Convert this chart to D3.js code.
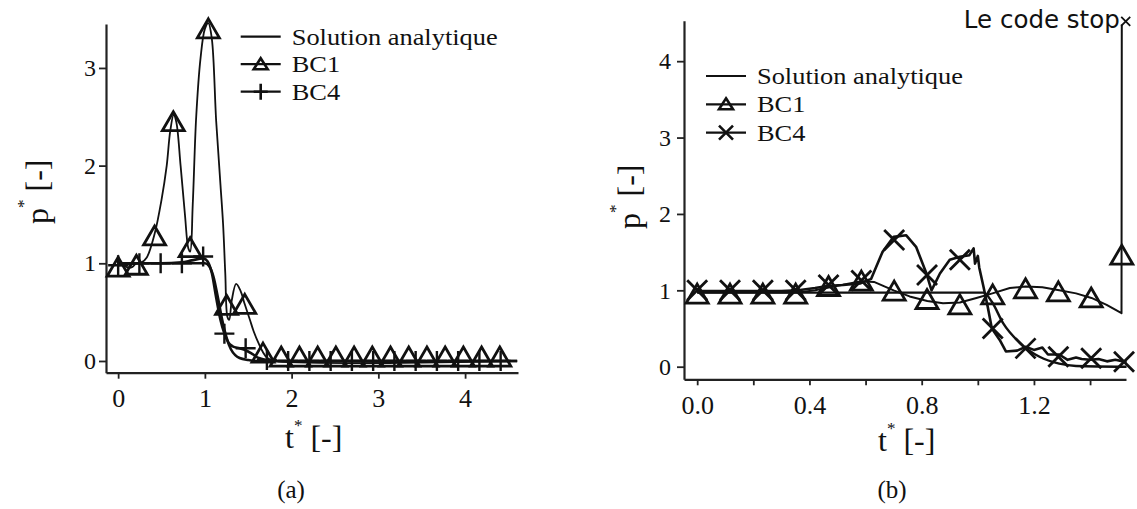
<!DOCTYPE html>
<html><head><meta charset="utf-8">
<script src="https://cdn.jsdelivr.net/npm/d3@7"></script>
<style>body{margin:0;background:#fff}svg{display:block}</style>
</head><body>
<svg id="c" width="1137" height="509"></svg>
<script>
// ---------- DATA ----------
// Panel (a)
const aTicksX = [0, 1, 2, 3, 4];
const aTicksY = [0, 1, 2, 3];
const aAnaT = [0, 0.5, 1.0, 1.05, 1.1, 1.15, 1.2, 1.25, 1.3, 1.35, 1.4, 1.5, 1.6, 4.6];
const aAnaP = [1.0, 1.0, 1.0, 0.97, 0.86, 0.65, 0.42, 0.24, 0.12, 0.06, 0.03, 0.01, 0, 0];
const aBC1T = [0, 0.05, 0.1, 0.16, 0.21, 0.27, 0.33, 0.42, 0.5, 0.56, 0.6, 0.64, 0.67, 0.72, 0.77, 0.81, 0.83, 0.86, 0.9, 0.95, 1.0, 1.04, 1.08, 1.13, 1.18, 1.21, 1.235, 1.26, 1.28, 1.31, 1.36, 1.41, 1.46, 1.52, 1.56, 1.62, 1.67, 1.72, 1.8, 4.6];
const aBC1P = [0.99, 1.0, 0.96, 0.96, 1.0, 1.01, 1.06, 1.3, 1.65, 2.0, 2.35, 2.52, 2.45, 2.0, 1.5, 1.15, 1.12, 1.6, 2.5, 3.1, 3.4, 3.46, 3.3, 2.46, 1.8, 1.4, 0.9, 0.45, 0.42, 0.62, 0.79, 0.72, 0.58, 0.42, 0.31, 0.18, 0.09, 0.03, 0, 0];
const aBC1MarkT = [0, 0.21, 0.42, 0.636, 0.83, 1.04, 1.25, 1.46, 1.67, 1.88, 2.09, 2.30, 2.51, 2.72, 2.93, 3.14, 3.35, 3.56, 3.77, 3.98, 4.19, 4.40];
const aBC1MarkP = [0.96, 0.98, 1.28, 2.45, 1.16, 3.40, 0.57, 0.58, 0.08, 0.04, 0.04, 0.04, 0.04, 0.04, 0.04, 0.04, 0.04, 0.04, 0.04, 0.04, 0.04, 0.04];
const aBC4T = [0, 0.12, 0.245, 0.49, 0.735, 0.85, 0.98, 1.03, 1.08, 1.13, 1.18, 1.225, 1.27, 1.32, 1.4, 1.47, 1.55, 1.62, 1.715, 1.8, 4.6];
const aBC4P = [0.98, 0.99, 1.0, 1.0, 1.01, 1.03, 1.05, 1.02, 0.9, 0.65, 0.42, 0.28, 0.19, 0.15, 0.13, 0.11, 0.07, 0.03, 0.01, 0, 0];
const aBC4MarkT = [0, 0.245, 0.49, 0.735, 0.98, 1.225, 1.47, 1.715, 1.96, 2.205, 2.45, 2.695, 2.94, 3.185, 3.43, 3.675, 3.92, 4.165, 4.41];
const aBC4MarkP = [0.98, 1.0, 1.0, 1.0, 1.07, 0.28, 0.13, 0.01, 0, 0, 0, 0, 0, 0, 0, 0, 0, 0, 0];

// Panel (b)
const bTicksX = [0, 0.4, 0.8, 1.2];
const bMinorX = [0.2, 0.6, 1.0, 1.4];
const bTicksY = [0, 1, 2, 3, 4];
const bAnaT = [0, 0.5, 1.02, 1.05, 1.09, 1.15, 1.22, 1.29, 1.35, 1.53];
const bAnaP = [0.97, 0.97, 0.97, 0.85, 0.57, 0.31, 0.13, 0.04, 0.01, 0];
const bBC1T = [0, 0.2, 0.36, 0.42, 0.5, 0.585, 0.63, 0.70, 0.757, 0.82, 0.876, 0.936, 0.995, 1.052, 1.114, 1.17, 1.23, 1.29, 1.35, 1.405, 1.459, 1.512, 1.513];
const bBC1P = [0.97, 0.97, 0.97, 1.0, 1.06, 1.12, 1.11, 1.0, 0.92, 0.86, 0.83, 0.84, 0.9, 0.96, 1.03, 1.05, 1.04, 1.0, 0.96, 0.9, 0.81, 0.70, 4.48];
const bBC1MarkT = [0, 0.117, 0.234, 0.351, 0.468, 0.585, 0.702, 0.819, 0.936, 1.053, 1.170, 1.287, 1.404, 1.513];
const bBC1MarkP = [0.95, 0.95, 0.95, 0.95, 1.05, 1.12, 0.99, 0.88, 0.81, 0.94, 1.02, 0.98, 0.90, 1.46];
const bBC4T = [0, 0.1, 0.2, 0.3, 0.36, 0.42, 0.47, 0.52, 0.58, 0.62, 0.66, 0.70, 0.745, 0.78, 0.817, 0.835, 0.865, 0.90, 0.936, 0.97, 0.985, 0.99, 1.0, 1.005, 1.02, 1.035, 1.05, 1.078, 1.1, 1.14, 1.17, 1.2, 1.23, 1.25, 1.29, 1.32, 1.35, 1.37, 1.4, 1.43, 1.46, 1.49, 1.53];
const bBC4P = [0.99, 0.99, 0.99, 0.99, 1.0, 1.03, 1.06, 1.07, 1.09, 1.15, 1.50, 1.70, 1.72, 1.57, 1.22, 1.0, 1.22, 1.40, 1.44, 1.46, 1.55, 1.35, 1.45, 1.3, 1.05, 0.79, 0.5, 0.35, 0.2, 0.21, 0.26, 0.22, 0.25, 0.16, 0.16, 0.09, 0.12, 0.1, 0.09, 0.1, 0.07, 0.09, 0.06];
const bBC4MarkT = [0, 0.117, 0.234, 0.351, 0.468, 0.585, 0.702, 0.819, 0.936, 1.053, 1.170, 1.287, 1.404, 1.521];
const bBC4MarkP = [1.0, 1.0, 1.0, 1.0, 1.07, 1.13, 1.66, 1.20, 1.40, 0.50, 0.24, 0.13, 0.11, 0.065];
const bStopT = [1.527];
const bStopP = [4.52];

const legendLabels = ["Solution analytique", "BC1", "BC4"];

// ---------- DRAW ----------
const svg = d3.select("#c");
const SERIF = "'Liberation Serif','Times New Roman',serif";
const INK = "#111";
const zip = (T, P) => T.map((t, i) => [t, P[i]]);

const triPath = "M0,-10L11,9L-11,9Z";
const plusPath = "M-10,0H10M0,-10V10";
const xPath = "M-10,-10L10,10M10,-10L-10,10";

function panel(cfg) {
  const x = d3.scaleLinear().domain(cfg.xd).range(cfg.xr);
  const y = d3.scaleLinear().domain(cfg.yd).range(cfg.yr);
  const g = svg.append("g");

  const ax = d3.axisBottom(x).tickValues(cfg.tx).tickSize(6).tickSizeOuter(0).tickPadding(10)
    .tickFormat(cfg.fmt);
  const gx = g.append("g").attr("transform", `translate(0,${cfg.yr[0]})`).call(ax);
  if (cfg.minor) {
    g.append("g").attr("transform", `translate(0,${cfg.yr[0]})`)
      .call(d3.axisBottom(x).tickValues(cfg.minor).tickSize(6).tickSizeOuter(0).tickFormat(""))
      .select(".domain").remove();
  }
  const ay = d3.axisLeft(y).tickValues(cfg.ty).tickSize(7).tickSizeOuter(0).tickPadding(cfg.ypad)
    .tickFormat(d3.format("d"));
  const gy = g.append("g").attr("transform", `translate(${cfg.xr[0]},0)`).call(ay);
  g.selectAll(".domain").attr("stroke", "#222").attr("stroke-width", 2.2);
  g.selectAll(".tick line").attr("stroke", "#222").attr("stroke-width", 1.8);
  gx.selectAll(".tick text").attr("font-family", SERIF).attr("font-size", 26).attr("fill", INK);
  gy.selectAll(".tick text").attr("font-family", SERIF).attr("font-size", 24).attr("fill", INK);

  const line = (curve) => d3.line().x(d => x(d[0])).y(d => y(d[1])).curve(curve);
  cfg.lines.forEach(L => {
    g.append("path").datum(zip(L.t, L.p)).attr("fill", "none").attr("stroke", INK)
      .attr("stroke-width", L.w).attr("stroke-linejoin", "round")
      .attr("d", line(L.curve));
  });
  cfg.marks.forEach(M => {
    g.append("g").selectAll("path").data(zip(M.t, M.p)).join("path")
      .attr("transform", d => `translate(${x(d[0])},${y(d[1])})`)
      .attr("d", M.shape).attr("fill", "none").attr("stroke", INK).attr("stroke-width", M.w);
  });

  const tt = g.append("text").attr("x", cfg.xt[0]).attr("y", cfg.xt[1])
    .attr("font-family", SERIF).attr("font-size", 32).attr("fill", INK);
  tt.append("tspan").text("t");
  tt.append("tspan").attr("dy", -17).attr("font-size", 17).text("*");
  tt.append("tspan").attr("dy", 17).text(" [-]");

  const ty = g.append("text").attr("transform", `translate(${cfg.yt[0]},${cfg.yt[1]}) rotate(-90)`)
    .attr("font-family", SERIF).attr("font-size", 32).attr("fill", INK);
  ty.append("tspan").text("p");
  ty.append("tspan").attr("dy", -19).attr("font-size", 17).text("*");
  ty.append("tspan").attr("dy", 19).text(" [-]");

  g.append("text").attr("x", cfg.cap[0]).attr("y", 498).attr("text-anchor", "middle")
    .attr("font-family", SERIF).attr("font-size", 25).attr("fill", INK).text(cfg.capText);

  const lg = g.append("g");
  legendLabels.forEach((lab, i) => {
    const yy = cfg.leg[1] + i * cfg.legStep;
    lg.append("line").attr("x1", cfg.leg[0]).attr("x2", cfg.leg[0] + 40).attr("y1", yy).attr("y2", yy)
      .attr("stroke", INK).attr("stroke-width", 2.2);
    const shape = i === 1 ? "M0,-6L7,5L-7,5Z" : i === 2 ? cfg.legMark2 : null;
    if (shape) lg.append("path").attr("d", shape).attr("transform", `translate(${cfg.leg[0] + 20},${yy})`)
      .attr("fill", "none").attr("stroke", INK).attr("stroke-width", 2.6);
    lg.append("text").attr("transform", `translate(${cfg.leg[0] + 51},${yy + 8}) scale(1.1,1)`)
      .attr("font-family", SERIF).attr("font-size", 24).attr("fill", INK).text(lab);
  });
  return {x, y, g};
}

panel({
  xd: [-0.14, 4.61], xr: [106, 518], yd: [-0.12, 3.45], yr: [372.7, 24],
  tx: aTicksX, ty: aTicksY, fmt: d3.format("d"), ypad: 3,
  lines: [
    {t: aAnaT, p: aAnaP, w: 2.6, curve: d3.curveMonotoneX},
    {t: aBC4T, p: aBC4P, w: 2.6, curve: d3.curveMonotoneX},
    {t: aBC1T, p: aBC1P, w: 1.8, curve: d3.curveCatmullRom.alpha(0.5)}
  ],
  marks: [
    {t: aBC1MarkT, p: aBC1MarkP, shape: triPath, w: 2.8},
    {t: aBC4MarkT, p: aBC4MarkP, shape: plusPath, w: 2.4}
  ],
  xt: [285, 448], yt: [48, 224], cap: [291, 0], capText: "(a)",
  leg: [240.7, 36.7], legStep: 27.5, legMark2: "M-7,0H7M0,-8V8"
});

const B = panel({
  xd: [-0.047, 1.528], xr: [684, 1126], yd: [-0.165, 4.53], yr: [379.3, 20.7],
  tx: bTicksX, minor: bMinorX, ty: bTicksY, fmt: d3.format(".1f"), ypad: 6,
  lines: [
    {t: bAnaT, p: bAnaP, w: 2.4, curve: d3.curveMonotoneX},
    {t: bBC1T, p: bBC1P, w: 2, curve: d3.curveLinear},
    {t: bBC4T, p: bBC4P, w: 2.6, curve: d3.curveLinear}
  ],
  marks: [
    {t: bBC1MarkT, p: bBC1MarkP, shape: triPath, w: 2.8},
    {t: bBC4MarkT, p: bBC4MarkP, shape: xPath, w: 2.8}
  ],
  xt: [878, 451], yt: [640, 229], cap: [892, 0], capText: "(b)",
  leg: [706, 76], legStep: 28.3, legMark2: "M-7,-7L7,7M7,-7L-7,7"
});

B.g.append("g").selectAll("path").data(zip(bStopT, bStopP)).join("path")
  .attr("transform", d => `translate(${B.x(d[0])},${B.y(d[1])})`)
  .attr("d", "M-4.5,-4.5L4.5,4.5M4.5,-4.5L-4.5,4.5").attr("stroke", INK).attr("stroke-width", 1.8);
B.g.append("text").attr("x", B.x(bStopT[0]) - 6).attr("y", B.y(bStopP[0]) + 7).attr("text-anchor", "end")
  .attr("font-family", "'DejaVu Sans',sans-serif").attr("font-size", 24.5).attr("fill", INK).text("Le code stop");
</script>
</body></html>
